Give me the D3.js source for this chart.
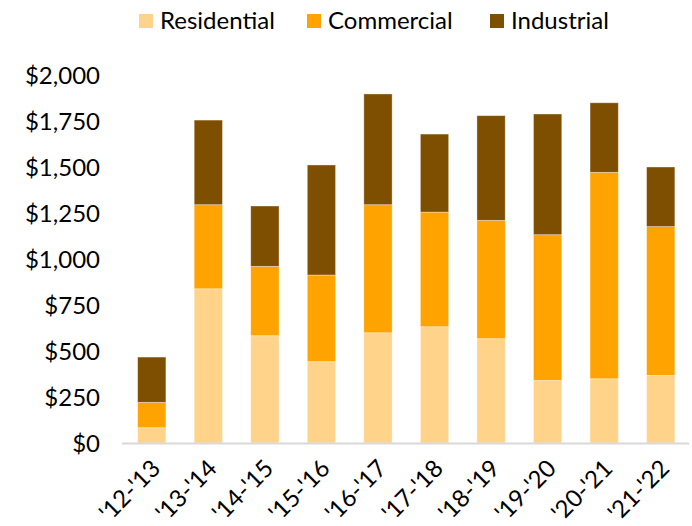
<!DOCTYPE html>
<html>
<head>
<meta charset="utf-8">
<script src="https://cdn.jsdelivr.net/npm/d3@7"></script>
<style>
  body { margin: 0; background: #fff; }
  text { font-family: "Lato", "Open Sans", sans-serif; fill: #000; }
</style>
</head>
<body>
<div id="chart"></div>
<script>
// fiscal years
const years = ["'12-'13", "'13-'14", "'14-'15", "'15-'16", "'16-'17", "'17-'18", "'18-'19", "'19-'20", "'20-'21", "'21-'22"]
// values in $
const residential = [83, 838, 583, 442, 599, 632, 567, 340, 349, 367]
const commercial = [138, 457, 377, 471, 696, 623, 643, 792, 1122, 809]
const industrial = [246, 460, 328, 598, 602, 424, 569, 656, 378, 324]
const yTicks = [0, 250, 500, 750, 1000, 1250, 1500, 1750, 2000]

const seriesNames = ["Residential", "Commercial", "Industrial"]
const colors = ["#FFD38A", "#FFA300", "#7F4F00"]

const width = 692
const height = 526

const svg = d3.select("#chart").append("svg")
    .attr("width", width)
    .attr("height", height)

//build table for the stack
const table = years.map((y, i) => ({
    year: y,
    Residential: residential[i],
    Commercial: commercial[i],
    Industrial: industrial[i]
}))

const stacked = d3.stack().keys(seriesNames)(table)

const x = d3.scaleBand().domain(years).range([123.5, 689]).paddingInner(0.5).paddingOuter(0.25)
const y = d3.scaleLinear().domain([0, 2000]).range([443, 75])
const color = d3.scaleOrdinal().domain(seriesNames).range(colors)

// bars
svg.append("g")
    .selectAll("g")
    .data(stacked)
    .join("g")
    .attr("fill", d => color(d.key))
    .selectAll("rect")
    .data(d => d)
    .join("rect")
    .attr("x", d => x(d.data.year))
    .attr("y", d => y(d[1]))
    .attr("width", x.bandwidth())
    .attr("height", d => y(d[0]) - y(d[1]))
    .attr("stroke", "#fff")
    .attr("stroke-opacity", 0.45)
    .attr("stroke-width", 0.8)

// baseline
svg.append("line")
    .attr("x1", 122).attr("x2", 689)
    .attr("y1", y(0) + 0.5).attr("y2", y(0) + 0.5)
    .attr("stroke", "#D9D9D9")
    .attr("stroke-width", 2)

// y axis labels
const yAxis = svg.append("g")
    .attr("transform", `translate(100,0)`)
    .call(d3.axisLeft(y).tickValues(yTicks).tickSize(0).tickPadding(0)
        .tickFormat(d => "$" + d3.format(",")(d)))
yAxis.select(".domain").remove()
yAxis.selectAll("text")
    .style("font-size", "24px")
    .attr("dy", "0.35em")

// x axis labels (rotated)
const xAxis = svg.append("g")
    .attr("transform", `translate(0,${y(0)})`)
    .call(d3.axisBottom(x).tickSize(0).tickPadding(0))
xAxis.select(".domain").remove()
xAxis.selectAll("text")
    .style("font-size", "24px")
    .attr("text-anchor", "end")
    .attr("dy", null)
    .attr("y", 0)
    .attr("transform", "translate(10,27) rotate(-45)")

// legend
const legendX = [139, 307, 490]
const legend = svg.append("g")
legend.selectAll("rect")
    .data(seriesNames)
    .join("rect")
    .attr("x", (d, i) => legendX[i])
    .attr("y", 14)
    .attr("width", 14)
    .attr("height", 14)
    .attr("fill", d => color(d))
legend.selectAll("text")
    .data(seriesNames)
    .join("text")
    .attr("x", (d, i) => legendX[i] + 21)
    .attr("y", 28.5)
    .style("font-size", "24px")
    .text(d => d)
</script>
</body>
</html>
